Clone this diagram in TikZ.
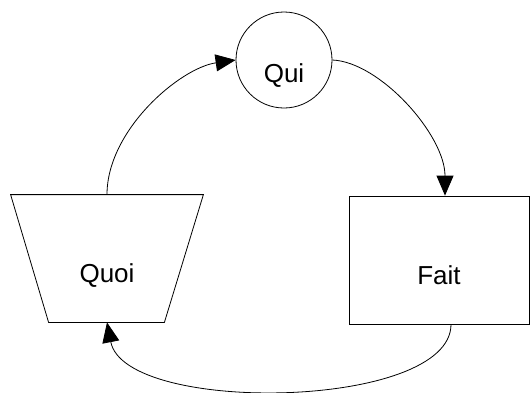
\documentclass[tikz,border=0pt]{standalone}
\usepackage{fontspec}
\setmainfont{Liberation Sans}
\usetikzlibrary{arrows.meta,shapes.geometric}
\begin{document}
\begin{tikzpicture}[x=1pt,y=-1pt,
  shapebox/.style={draw=black,line width=0.8pt,fill=white,inner sep=0pt,
    font=\fontsize{26}{30}\selectfont},
  outline/.style={draw=black,line width=0.8pt},
  link/.style={draw=black,line width=0.8pt,-{Triangle[length=20pt,width=17pt]}}]
\useasboundingbox (0,0) rectangle (530,392);
\node[shapebox,circle,minimum size=96pt] (qui) at (284,60) {\raisebox{-22pt}[0pt][0pt]{Qui}};
\node[shapebox,draw=none,fill=none,rectangle,minimum width=192pt,minimum height=127pt] (quoi) at (107,258.5) {\raisebox{-24pt}[0pt][0pt]{Quoi}};
\draw[outline] (quoi.north west) -- (quoi.north east) -- ([xshift=-39pt]quoi.south east)
  -- ([xshift=38pt]quoi.south west) -- cycle;
\node[shapebox,rectangle,minimum width=180pt,minimum height=128pt] (fait) at (439,260) {\raisebox{-24pt}[0pt][0pt]{Fait}};
\draw[link] (quoi.north) .. controls (107,130) and (180,68) .. (qui.west);
\draw[link] (qui.east) .. controls (380,62) and (445,135) .. ([xshift=6pt]fait.north);
\draw[link] ([xshift=12pt]fait.south) .. controls (451,410) and (125,415) .. (quoi.south);
\end{tikzpicture}
\end{document}
